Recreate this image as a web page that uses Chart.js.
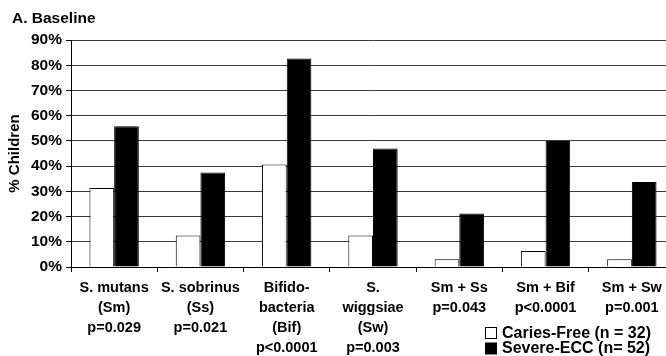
<!DOCTYPE html>
<html>
<head>
<meta charset="utf-8">
<script src="https://cdn.jsdelivr.net/npm/chart.js"></script>
<style>
  html, body { margin: 0; padding: 0; background: #fff; overflow: hidden; }
  #wrap { width: 676px; height: 356px; }
</style>
</head>
<body>
<div id="wrap"><canvas id="baselineChart" width="676" height="356"></canvas></div>
<script>
const categories = [
  ["S. mutans", "(Sm)", "p=0.029"],
  ["S. sobrinus", "(Ss)", "p=0.021"],
  ["Bifido-", "bacteria", "(Bif)", "p<0.0001"],
  ["S.", "wiggsiae", "(Sw)", "p=0.003"],
  ["Sm + Ss", "p=0.043"],
  ["Sm + Bif", "p<0.0001"],
  ["Sm + Sw", "p=0.001"]
];
const cariesFree = [31.3, 12.5, 40.6, 12.5, 3.1, 6.3, 3.1];
const severeEcc = [55.8, 37.5, 82.7, 47.0, 21.2, 50.0, 33.7];
const seriesNames = ["Caries-Free (n = 32)", "Severe-ECC (n= 52)"];
const yTicks = [0, 10, 20, 30, 40, 50, 60, 70, 80, 90];

const FONT = "'Liberation Sans', Arial, sans-serif";
Chart.defaults.font.family = FONT;
Chart.defaults.color = "#000";

// panel title + legend, drawn by hand in the spots the figure uses
const figureDecor = {
  id: "figureDecor",
  afterDraw(chart) {
    const ctx = chart.ctx;
    ctx.save();
    ctx.fillStyle = "#000";
    ctx.textBaseline = "middle";
    ctx.textAlign = "left";
    ctx.font = "bold 15.5px " + FONT;
    ctx.fillText("A. Baseline", 12, 19);

    ctx.font = "bold 16px " + FONT;
    chart.data.datasets.forEach((ds, i) => {
      const y = 327 + i * 15.5;
      ctx.fillStyle = ds.backgroundColor;
      ctx.fillRect(485.5, y + 0.5, 11, 11);
      ctx.strokeStyle = "#000";
      ctx.lineWidth = 1;
      ctx.strokeRect(485.5, y + 0.5, 11, 11);
      ctx.fillStyle = "#000";
      ctx.fillText(ds.label, 502, y + 6.5);
    });
    ctx.restore();
  }
};

new Chart(document.getElementById("baselineChart").getContext("2d"), {
  type: "bar",
  data: {
    labels: categories,
    datasets: [
      { label: seriesNames[0], data: cariesFree, backgroundColor: "#ffffff", borderColor: "#000", borderWidth: 1 },
      { label: seriesNames[1], data: severeEcc, backgroundColor: "#000000", borderColor: "#000", borderWidth: 1 }
    ]
  },
  options: {
    responsive: false,
    animation: false,
    layout: { padding: { top: 40, left: 0, right: 1, bottom: 0 } },
    datasets: { bar: { categoryPercentage: 0.572, barPercentage: 1 } },
    plugins: { legend: { display: false }, title: { display: false }, tooltip: { enabled: false } },
    scales: {
      x: {
        offset: true,
        grid: { drawOnChartArea: false, color: "#000", tickLength: 5, offset: true },
        border: { color: "#000", width: 1 },
        ticks: {
          autoSkip: false, maxRotation: 0, minRotation: 0, padding: 6,
          font: { size: 14.5, weight: "bold", lineHeight: 20 / 14.5 }
        },
        afterFit(scale) { scale.height = 89; }
      },
      y: {
        min: 0, max: 90,
        afterBuildTicks(scale) { scale.ticks = yTicks.map((v) => ({ value: v })); },
        grid: { color: "#3a3a3a", tickColor: "#000", tickLength: 5 },
        border: { color: "#000", width: 1 },
        ticks: {
          padding: 4,
          font: { size: 15.5, weight: "bold" },
          callback: (v) => v + "%"
        },
        title: {
          display: true, text: "% Children",
          font: { size: 15, weight: "bold" },
          padding: { top: 6, bottom: 0 }
        },
        afterFit(scale) { scale.width = 71; }
      }
    }
  },
  plugins: [figureDecor]
});
</script>
</body>
</html>
